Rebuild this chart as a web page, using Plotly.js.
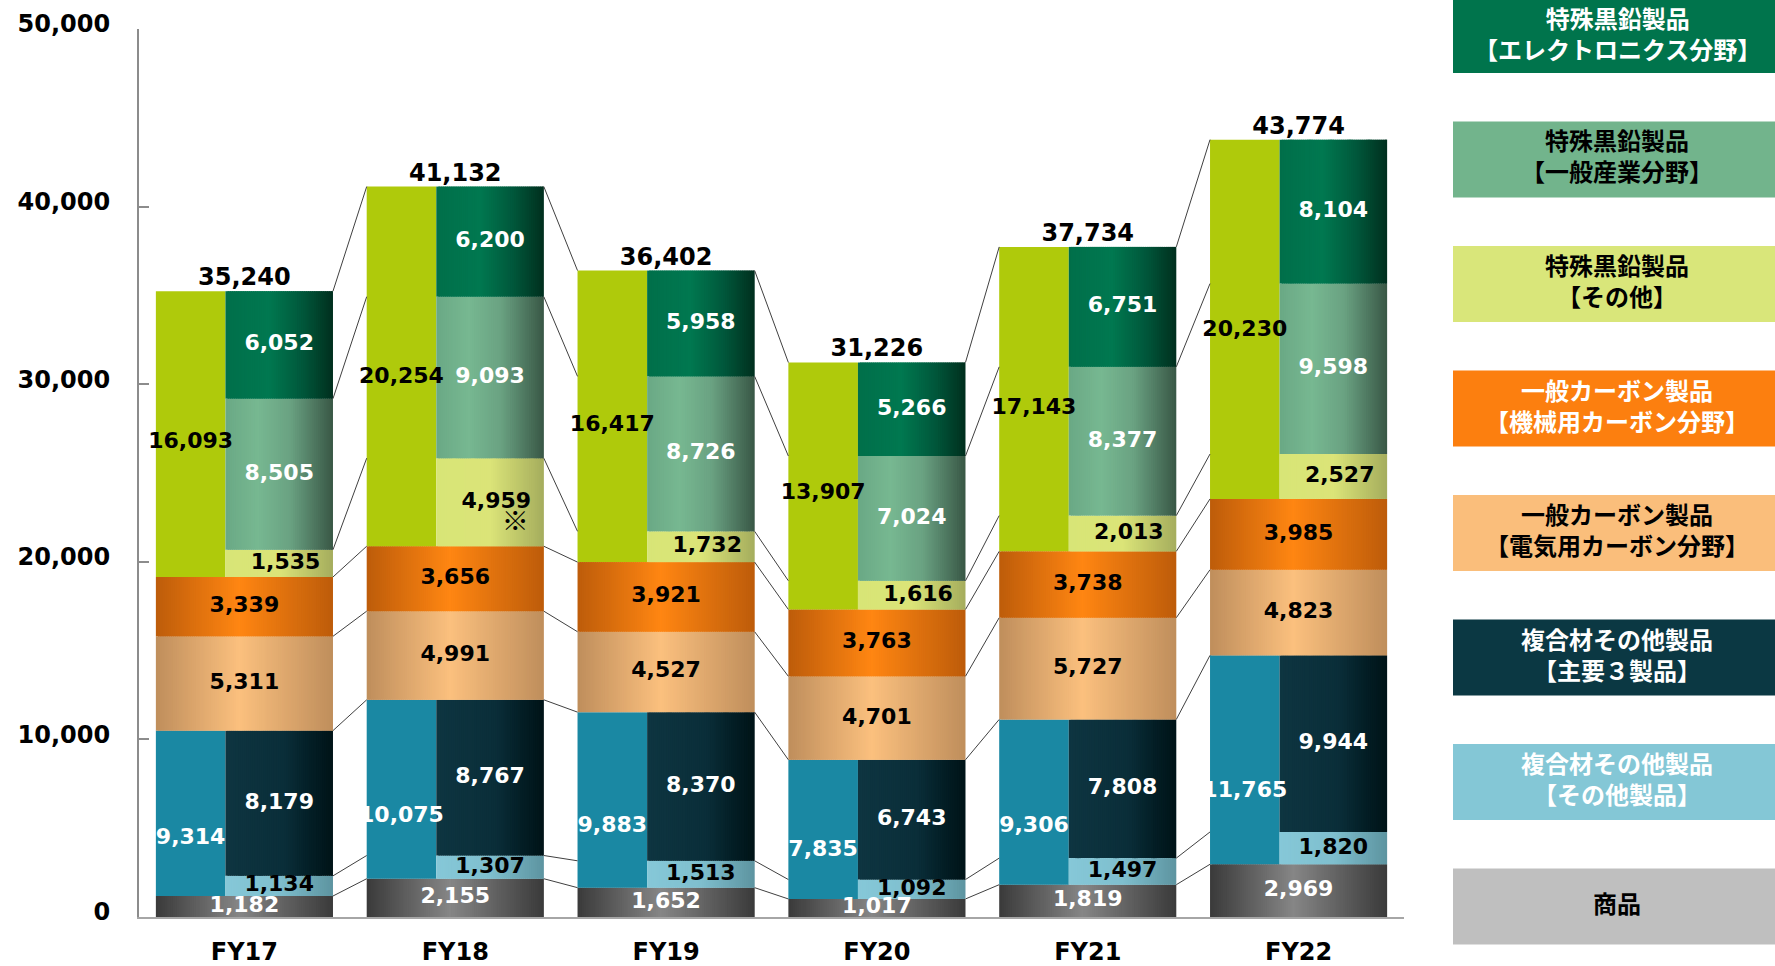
<!DOCTYPE html>
<html>
<head>
<meta charset="utf-8">
<script src="https://cdn.plot.ly/plotly-3.0.1.min.js"></script>
<style>
  html, body { margin: 0; padding: 0; background: #ffffff; }
  #chart { width: 1775px; height: 966px; }
</style>
</head>
<body>
<div id="chart"></div>
<script>
// ---------------- DATA ----------------
const years = ['FY17', 'FY18', 'FY19', 'FY20', 'FY21', 'FY22'];
const goods               = [1182, 2155, 1652, 1017, 1819, 2969];     // 商品
const compositeOther      = [1134, 1307, 1513, 1092, 1497, 1820];     // 複合材その他製品【その他製品】
const compositeMain       = [8179, 8767, 8370, 6743, 7808, 9944];     // 複合材その他製品【主要3製品】
const compositeTotal      = [9314, 10075, 9883, 7835, 9306, 11765];   // 複合材その他製品 合計
const electricCarbon      = [5311, 4991, 4527, 4701, 5727, 4823];     // 一般カーボン製品【電気用】
const mechanicalCarbon    = [3339, 3656, 3921, 3763, 3738, 3985];     // 一般カーボン製品【機械用】
const graphiteOther       = [1535, 4959, 1732, 1616, 2013, 2527];     // 特殊黒鉛製品【その他】
const graphiteIndustry    = [8505, 9093, 8726, 7024, 8377, 9598];     // 特殊黒鉛製品【一般産業分野】
const graphiteElectronics = [6052, 6200, 5958, 5266, 6751, 8104];     // 特殊黒鉛製品【エレクトロニクス分野】
const graphiteTotal       = [16093, 20254, 16417, 13907, 17143, 20230]; // 特殊黒鉛製品 合計
const totals              = [35240, 41132, 36402, 31226, 37734, 43774];
const graphiteOtherNote   = ['', '※', '', '', '', ''];

const legendNames = [
  '特殊黒鉛製品<br>【エレクトロニクス分野】',
  '特殊黒鉛製品<br>【一般産業分野】',
  '特殊黒鉛製品<br>【その他】',
  '一般カーボン製品<br>【機械用カーボン分野】',
  '一般カーボン製品<br>【電気用カーボン分野】',
  '複合材その他製品<br>【主要３製品】',
  '複合材その他製品<br>【その他製品】',
  '商品'
];

// ---------------- STYLE ----------------
const FULL_OFF = -0.42, FULL_W = 0.84;
const LEFT_OFF = -0.42, LEFT_W = 0.33;
const RIGHT_OFF = -0.09, RIGHT_W = 0.51;
const NUM_FONT = 'DejaVu Sans, Verdana, sans-serif';
const CJK_FONT = 'Noto Sans CJK JP, sans-serif';
const TEAL_LABEL_FRAC = 0.35;   // relative label height inside the teal total bar
const GREEN_LABEL_FRAC = 0.47;  // relative label height inside the yellow-green total bar
const NOTE_DY = 1250;           // note mark drop below its value label (axis units)

const grad = {
  gray:        [[0, '#3a3a3a'], [0.47, '#868686'], [1, '#3a3a3a']],
  orange:      [[0, '#bd5c0a'], [0.47, '#ff8612'], [1, '#bd5c0a']],
  lightOrange: [[0, '#bf8e5c'], [0.47, '#fbc07e'], [1, '#bf8e5c']],
  darkGreen:   [[0, '#006f4a'], [0.4, '#007850'], [0.72, '#00573b'], [1, '#002f1e']],
  medGreen:    [[0, '#6aa985'], [0.3, '#77b891'], [0.6, '#6aa282'], [1, '#395746']],
  lightYellow: [[0, '#d8e577'], [0.5, '#dbe478'], [1, '#a5ad5d']],
  darkTeal:    [[0, '#0e3541'], [0.55, '#0a2e39'], [0.8, '#031e25'], [1, '#001317']],
  lightBlue:   [[0, '#86c8d8'], [0.5, '#7fbfce'], [1, '#5d94a0']]
};
const solidYellowGreen = '#afca0b';
const solidTeal = '#1a88a3';

const legendColors = ['#00744c', '#72b48c', '#d9e67a', '#fc7f0f', '#fabe7b', '#0b3843', '#84c7d6', '#bfbfbf'];
const legendTextColors = ['#ffffff', '#000000', '#000000', '#ffffff', '#000000', '#ffffff', '#ffffff', '#000000'];

// ---------------- HELPERS ----------------
const xs = years.map((_, i) => i);
function hexToRgb(h) { h = h.replace('#', ''); return [0, 2, 4].map(k => parseInt(h.substr(k, 2), 16)); }
function interp(stops, t) {
  for (let k = 0; k < stops.length - 1; k++) {
    const [t0, c0] = stops[k], [t1, c1] = stops[k + 1];
    if (t >= t0 && t <= t1) {
      const f = (t - t0) / (t1 - t0);
      const a = hexToRgb(c0), b = hexToRgb(c1);
      return 'rgb(' + a.map((v, i) => Math.round(v + (b[i] - v) * f)).join(',') + ')';
    }
  }
  return stops[stops.length - 1][1];
}
const fmt = v => v.toLocaleString('en-US');

// right-hand stack (bottom -> top)
const rightStack = [goods, compositeOther, compositeMain, electricCarbon, mechanicalCarbon, graphiteOther, graphiteIndustry, graphiteElectronics];
const bases = [];
let run = xs.map(() => 0);
rightStack.forEach(a => { bases.push(run.slice()); run = run.map((r, i) => r + a[i]); });
const tops = bases.map((b, k) => b.map((v, i) => v + rightStack[k][i]));

const traces = [];

// connector (series) lines
tops.forEach(level => {
  const lx = [], ly = [];
  for (let i = 0; i < xs.length - 1; i++) {
    lx.push(xs[i] + FULL_OFF + FULL_W, xs[i + 1] + FULL_OFF, null);
    ly.push(level[i], level[i + 1], null);
  }
  traces.push({ type: 'scatter', mode: 'lines', x: lx, y: ly, line: { color: '#404040', width: 1 }, hoverinfo: 'skip', showlegend: false });
});

function gradientBars(vals, base, off, wid, stops) {
  const N = Math.round(wid * 100), sw = wid / N;
  for (let k = 0; k < N; k++) {
    traces.push({
      type: 'bar', x: xs, y: vals, base: base,
      offset: off + k * sw, width: k < N - 1 ? sw * 1.8 : sw,
      marker: { color: interp(stops, (k + 0.5) / N), line: { width: 0 } },
      hoverinfo: 'skip', showlegend: false
    });
  }
}
function solidBars(vals, base, off, wid, color) {
  traces.push({
    type: 'bar', x: xs, y: vals, base: base, offset: off, width: wid,
    marker: { color: color, line: { width: 0 } }, hoverinfo: 'skip', showlegend: false
  });
}
function labels(vals, base, xoff, color, frac) {
  const f = frac === undefined ? 0.5 : frac;
  traces.push({
    type: 'scatter', mode: 'text',
    x: xs.map(v => v + xoff),
    y: vals.map((v, i) => base[i] + v * f),
    text: vals.map(fmt),
    textposition: 'middle center',
    textfont: { family: NUM_FONT, size: 22, color: color, weight: 'bold' },
    cliponaxis: false, hoverinfo: 'skip', showlegend: false
  });
}

// bars
gradientBars(goods, bases[0], FULL_OFF, FULL_W, grad.gray);
solidBars(compositeTotal, bases[1], LEFT_OFF, LEFT_W, solidTeal);
gradientBars(compositeOther, bases[1], RIGHT_OFF, RIGHT_W, grad.lightBlue);
gradientBars(compositeMain, bases[2], RIGHT_OFF, RIGHT_W, grad.darkTeal);
gradientBars(electricCarbon, bases[3], FULL_OFF, FULL_W, grad.lightOrange);
gradientBars(mechanicalCarbon, bases[4], FULL_OFF, FULL_W, grad.orange);
solidBars(graphiteTotal, bases[5], LEFT_OFF, LEFT_W, solidYellowGreen);
gradientBars(graphiteOther, bases[5], RIGHT_OFF, RIGHT_W, grad.lightYellow);
gradientBars(graphiteIndustry, bases[6], RIGHT_OFF, RIGHT_W, grad.medGreen);
gradientBars(graphiteElectronics, bases[7], RIGHT_OFF, RIGHT_W, grad.darkGreen);

// labels
const LC = LEFT_OFF + LEFT_W / 2, RC = RIGHT_OFF + RIGHT_W / 2, FC = FULL_OFF + FULL_W / 2;
labels(compositeTotal, bases[1], LC, '#ffffff', TEAL_LABEL_FRAC);
labels(graphiteTotal, bases[5], LC, '#000000', GREEN_LABEL_FRAC);
labels(compositeOther, bases[1], RC, '#000000');
labels(goods, bases[0], FC, '#ffffff');
labels(compositeMain, bases[2], RC, '#ffffff');
labels(electricCarbon, bases[3], FC, '#000000');
labels(mechanicalCarbon, bases[4], FC, '#000000');
labels(graphiteOther, bases[5], RC + 0.03, '#000000');
labels(graphiteIndustry, bases[6], RC, '#ffffff');
labels(graphiteElectronics, bases[7], RC, '#ffffff');

// note mark (※) under the FY18 "その他" value
traces.push({
  type: 'scatter', mode: 'text',
  x: xs.map(v => v + RC + 0.12),
  y: graphiteOther.map((v, i) => bases[5][i] + v / 2 - NOTE_DY),
  text: graphiteOtherNote,
  textposition: 'middle center',
  textfont: { family: CJK_FONT, size: 27, color: '#000000' },
  cliponaxis: false, hoverinfo: 'skip', showlegend: false
});

// totals
traces.push({
  type: 'scatter', mode: 'text', x: xs.map(v => v + FC), y: totals,
  text: totals.map(fmt), textposition: 'top center',
  textfont: { family: NUM_FONT, size: 24, color: '#000000', weight: 'bold' },
  cliponaxis: false, hoverinfo: 'skip', showlegend: false
});

// ---------------- LEGEND (boxes) ----------------
const ML = 139, MR = 371, MT = 29, MB = 49, W = 1775, H = 966;
const PW = W - ML - MR, PH = H - MT - MB;
const px2paperX = p => (p - ML) / PW;
const px2paperY = p => (H - MB - p) / PH;
const shapes = [], annotations = [];
legendNames.forEach((name, k) => {
  const top = -3 + 124.5 * k, bot = top + 76;
  shapes.push({
    type: 'rect', xref: 'paper', yref: 'paper',
    x0: px2paperX(1453), x1: px2paperX(1785), y0: px2paperY(bot), y1: px2paperY(top),
    fillcolor: legendColors[k], line: { width: 0 }, layer: 'above'
  });
  annotations.push({
    xref: 'paper', yref: 'paper', x: px2paperX(1617), y: px2paperY((top + bot) / 2),
    xanchor: 'center', yanchor: 'middle', showarrow: false, align: 'center', yshift: k === 0 ? 2 : 4,
    text: name, font: { family: CJK_FONT, size: 24, color: legendTextColors[k], weight: 'bold' }
  });
});

const layout = {
  width: W, height: H,
  margin: { l: ML, r: MR, t: MT, b: MB, pad: 0 },
  paper_bgcolor: '#ffffff', plot_bgcolor: '#ffffff',
  barmode: 'overlay', showlegend: false,
  xaxis: {
    range: [-0.5, 5.5], tickvals: xs, ticktext: years,
    showline: true, linecolor: '#a6a6a6', linewidth: 2,
    showgrid: false, zeroline: false, ticks: '',
    tickfont: { family: NUM_FONT, size: 24, color: '#000000', weight: 'bold' },
    ticklabelstandoff: 12, fixedrange: true
  },
  yaxis: {
    range: [0, 50000], tick0: 0, dtick: 10000, tickformat: ',d',
    showline: true, linecolor: '#8c8c8c', linewidth: 2,
    ticks: 'inside', ticklen: 10, tickwidth: 2, tickcolor: '#8c8c8c',
    showgrid: false, zeroline: false,
    tickfont: { family: NUM_FONT, size: 24, color: '#000000', weight: 'bold' },
    ticklabelstandoff: 22, ticklabelshift: -5, fixedrange: true
  },
  shapes: shapes,
  annotations: annotations
};

Plotly.newPlot('chart', traces, layout, { displayModeBar: false, staticPlot: true });
</script>
</body>
</html>
